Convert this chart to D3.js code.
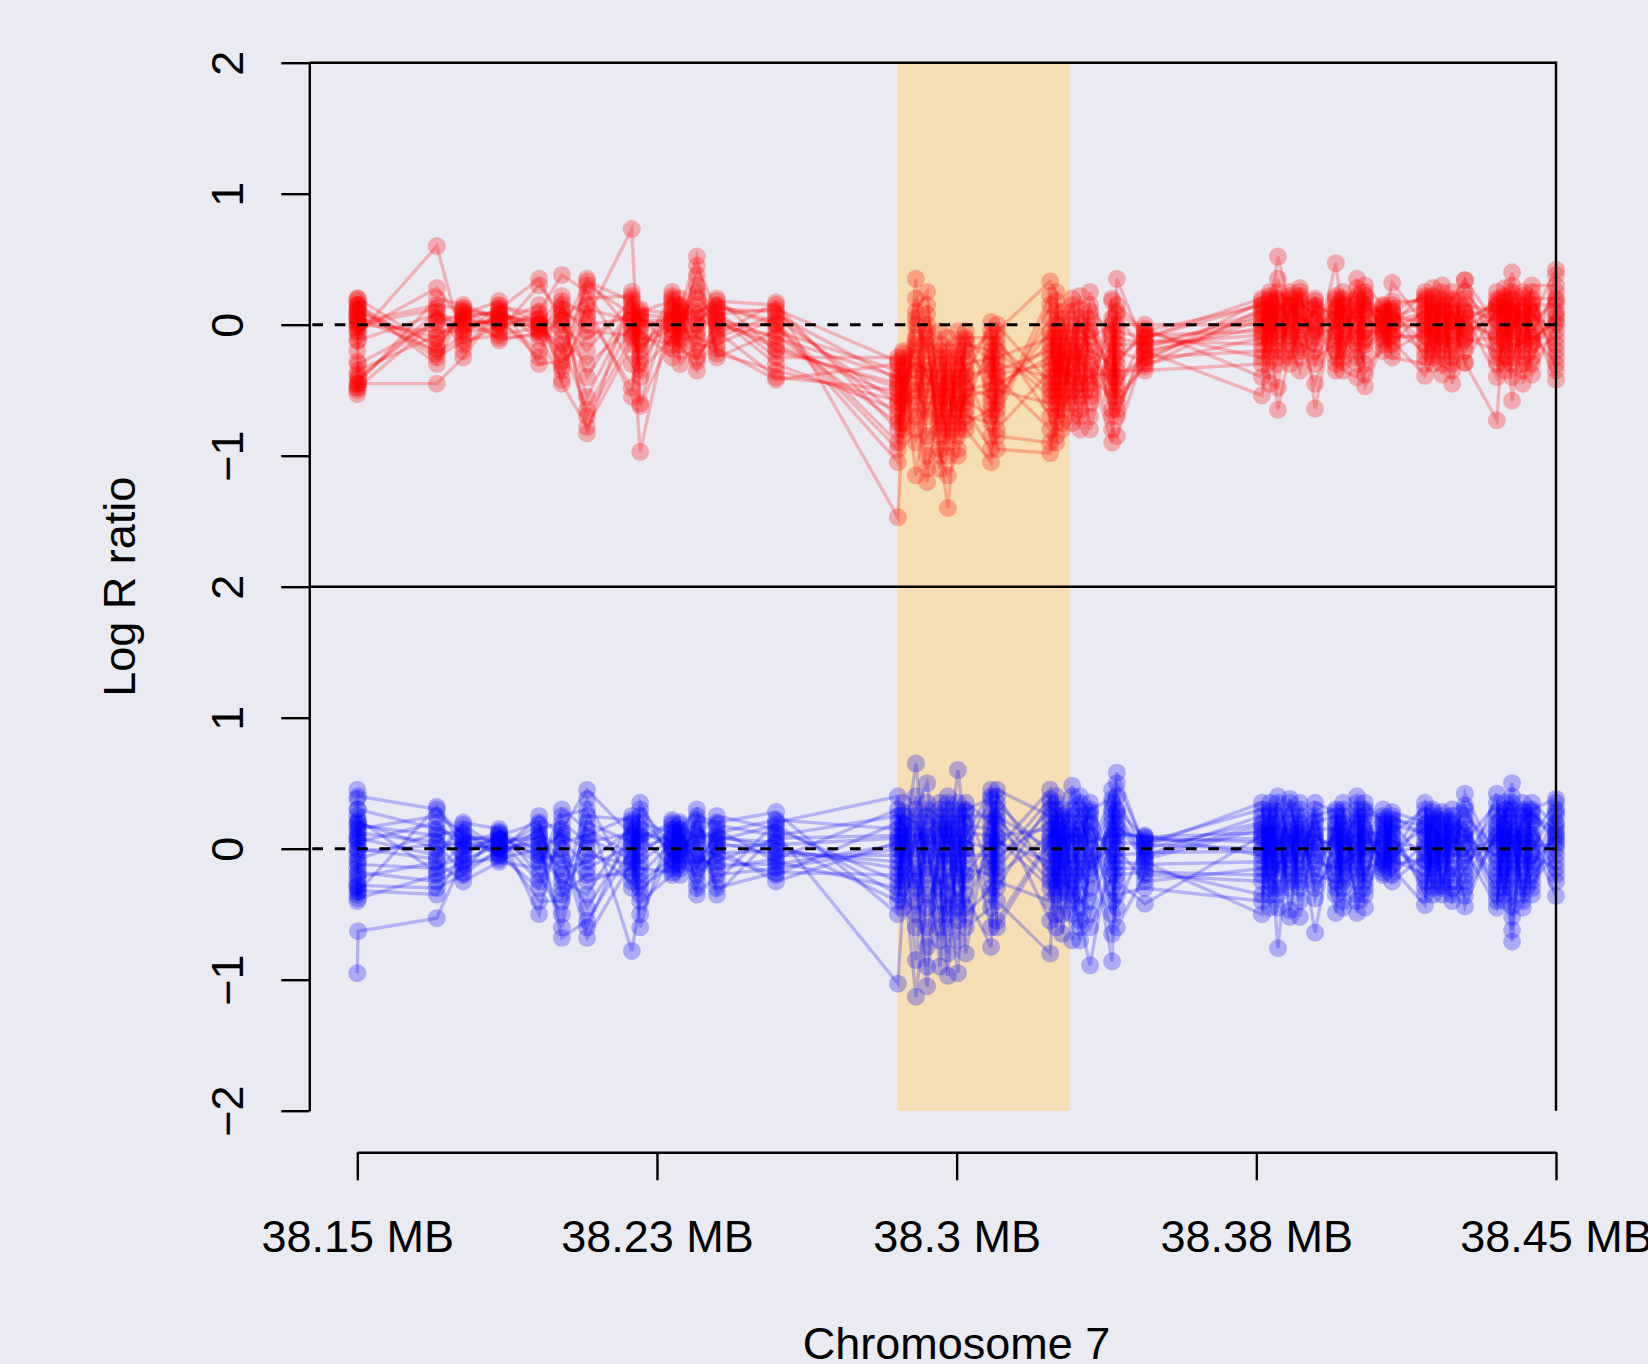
<!DOCTYPE html>
<html><head><meta charset="utf-8">
<script src="https://cdn.jsdelivr.net/npm/d3@7"></script>
<style>html,body{margin:0;padding:0;background:#EAEAF2;} svg{display:block;font-family:"Liberation Sans",Arial,sans-serif;}</style>
</head><body><svg id="c" width="1648" height="1364"></svg>
<script>
// Probe positions (MB) on chromosome 7
const positionsMB = [38.1500,38.1502,38.1699,38.1765,38.1855,38.1955,38.2012,38.2075,38.2187,38.2208,38.2288,38.2308,38.2350,38.2400,38.2548,
38.2853,38.2866,38.2898,38.2926,38.2958,38.2978,38.3003,38.3023,38.3086,38.3101,38.3234,38.3249,38.3264,38.3289,38.3309,38.3334,38.3389,38.3401,38.3471,
38.3764,38.3784,38.3804,38.3834,38.3859,38.3897,38.3949,38.3967,38.4002,38.4022,38.4067,38.4090,38.4172,38.4192,38.4215,38.4240,38.4272,38.4352,38.4372,38.4390,38.4417,38.4440,38.4500];

// Log R ratio x100, one row per probe, one column per sample (top panel, red)
const redLogR = [
[12,-5,8,-45,3,15,-20,-50,0,10,-38,5,-12,18,-48,-2,7,-28,20,-53],
[5,2,15,-40,-8,20,-12,-45,-45,0,-30,12,-5,10,-42,5,0,-35,15,-48],
[-10,15,-22,5,60,-18,8,-45,20,-5,2,-25,28,-15,10,-20,12,-8,-30,3],
[5,12,-8,0,-15,10,3,-25,15,-5,8,-12,2,6,-3,10,-20,4,13,-6],
[10,-5,15,3,0,8,-10,12,5,-3,18,-8,2,10,6,-12,14,0,4,7],
[-5,30,2,-20,5,0,-8,35,-3,10,-30,-2,15,-10,4,-6,8,0,-25,1],
[-20,8,-35,15,-5,22,-42,0,-15,38,-28,10,-45,5,-10,18,-32,3,12,-22],
[30,-70,5,-40,35,-83,15,-20,-65,25,-10,0,-78,20,-30,8,33,-55,-5,12],
[8,-10,73,15,-5,25,-55,20,0,-30,10,5,-15,22,-2,-48,18,12,-8,3],
[-30,5,-60,0,-97,-10,8,-25,-35,12,-5,-20,3,-62,10,-15,-2,-40,6,-12],
[10,-5,20,0,15,-15,5,25,-10,8,-25,12,3,-8,18,-3,6,22,-18,0],
[5,15,-10,8,-20,0,12,-5,20,-15,3,-30,10,-2,6,14,-12,2,-8,9],
[20,-10,45,0,-25,15,52,-5,8,-35,25,-15,10,30,-20,5,-8,38,2,-28],
[5,-15,10,18,-5,0,-25,12,20,-8,2,-18,15,6,-10,-2,8,-22,14,3],
[-10,5,-25,15,-40,0,-5,10,-20,17,-15,-42,2,-30,8,-8,12,-35,0,-18],
[-40,-60,-25,-80,-50,-105,-35,-70,-45,-147,-55,-30,-90,-65,-42,-75,-28,-58,-95,-48],
[-30,-45,-60,-20,-75,-38,-52,-85,-25,-68,-40,-55,-33,-80,-48,-62,-22,-70,-35,-58],
[-20,10,-45,-80,35,-30,-15,-60,-115,0,-40,-25,20,-70,-10,-55,-35,5,-90,-50],
[-40,25,-70,-10,-100,-35,0,-120,-55,-20,15,-85,-45,-5,-65,-30,-110,-15,-50,8],
[-50,-75,-30,-95,-20,-60,-110,-40,-5,-85,-55,-70,-35,-100,-45,-25,-65,-80,-15,-58],
[-60,-35,-85,-140,-45,-20,-70,-100,-50,-30,-90,-10,-65,-115,-40,-55,-80,-25,-75,-48],
[-40,-70,-15,-55,-95,-30,-60,-5,-85,-45,-25,-75,-50,-100,-35,-65,-20,-80,-42,-58],
[-30,-55,-10,-70,-40,-20,-80,-45,-5,-60,-35,-50,-15,-75,-25,-65,-38,-48,-12,-58],
[-25,-50,-10,-75,2,-40,-105,-30,-60,-15,-85,-45,-20,-65,-5,-95,-35,-55,-28,-70],
[-35,-15,-60,-40,-80,-5,-50,-25,-95,-30,-70,-10,-45,-55,-20,-85,-38,-65,0,-48],
[-20,-50,5,-80,-35,33,-60,-10,-98,-40,15,-70,-25,-5,-55,-90,-30,22,-45,-15],
[-30,0,-60,-15,-85,25,-45,-20,-70,10,-40,-90,-5,-55,-25,-65,18,-35,-50,-10],
[-10,-40,-25,-65,5,-30,-80,-15,-50,10,-35,-20,-60,-5,-45,-75,-28,-55,0,-38],
[-15,-35,10,-50,-25,-70,0,-40,-20,-60,20,-30,-10,-75,-45,-5,-55,-22,15,-38],
[0,-25,-45,-15,-65,22,-35,-80,-10,-50,-30,12,-40,-20,-70,5,-55,-28,-5,-45],
[-20,10,-40,-60,0,-30,-80,25,-15,-50,-35,-5,-70,15,-45,-25,-55,5,-10,-38],
[-30,-5,-55,18,-40,-80,-15,-25,-65,5,-90,-35,-10,-50,20,-45,-20,-70,0,-38],
[-10,-45,15,-60,-25,-85,0,-35,35,-50,-20,-70,8,-30,-55,-15,-40,10,-65,-5],
[-15,-25,-5,-30,-10,-20,0,-35,-18,-8,-28,-12,-22,-3,-32,-15,-25,-6,-20,-10],
[5,-20,15,-10,20,-54,0,-30,10,-5,18,-15,3,-40,12,-8,8,-25,-2,15],
[10,-5,20,-25,0,-15,25,5,-35,12,-10,18,-20,8,2,-45,15,-8,22,0],
[52,0,-15,10,-65,20,-5,15,-30,5,25,-20,8,-10,35,-48,12,-3,18,-25],
[15,-10,5,22,-20,0,25,-8,10,-30,18,3,-15,12,-5,20,-25,8,-2,14],
[5,20,-15,0,28,-10,12,-25,18,2,-5,22,-35,8,15,-12,0,25,-20,10],
[-5,15,-20,10,-64,0,20,-10,5,-30,12,-15,18,-3,8,-45,2,-25,14,-8],
[10,-20,47,-5,15,-30,0,22,-12,5,-35,18,-8,12,-25,3,20,-15,8,-2],
[-10,15,5,-25,20,0,-15,10,-35,25,-5,8,-20,18,2,-12,12,-28,6,14],
[20,-10,5,35,-25,12,-5,28,-40,0,15,-15,8,22,-30,3,-8,18,-20,10],
[0,25,-15,10,-47,18,-5,30,-20,8,12,-30,22,-10,5,-38,15,-2,20,-12],
[5,-10,12,0,-15,8,-5,15,2,-8,10,-20,6,-3,14,-12,0,9,-6,4],
[-5,10,0,32,-12,5,-20,15,-8,2,12,-15,8,-3,18,-10,4,-25,10,0],
[10,-15,25,0,-39,15,-5,20,-10,5,-25,12,0,-20,18,-8,8,-30,22,-2],
[-5,20,-12,10,-25,28,0,-18,15,-8,5,-30,12,2,-15,22,-3,8,-20,16],
[15,-10,30,-25,5,-38,20,0,-15,10,-5,25,-20,12,-30,8,2,-12,18,-8],
[-8,12,-45,5,-20,18,0,-12,25,-30,10,-5,15,-25,3,20,-15,8,-35,2],
[34,-10,5,-29,15,0,-20,20,-5,10,-15,25,-29,8,-8,34,2,-12,12,-3],
[0,-20,15,-73,10,-8,20,-30,5,-15,25,-5,12,-40,8,-25,18,-10,3,14],
[12,-5,-25,20,0,-35,15,-12,28,-8,5,-20,10,-3,22,-30,2,18,-15,8],
[40,-15,10,-58,20,-5,0,25,-25,12,-40,5,18,-10,8,-30,30,-2,15,-20],
[-10,20,-30,5,-15,25,10,-20,0,15,-35,8,-8,22,-25,3,-45,12,2,-12],
[5,-20,30,-8,15,-38,0,20,-12,10,-25,25,-5,8,-30,18,-15,12,2,-10],
[42,-10,30,-30,15,0,-42,20,5,-20,10,-35,25,-5,38,-15,8,-25,18,2]
];

// Log R ratio x100 (bottom panel, blue)
const blueLogR = [
[45,-20,10,-35,25,-30,0,15,-10,38,-28,5,-95,20,-40,8,-15,30,-5,-25],
[40,-12,18,-28,20,-38,5,8,-18,30,-22,12,-63,15,-32,0,-8,22,-2,-33],
[30,-15,10,-30,0,-20,20,-5,-25,15,-10,5,-53,25,-35,-8,12,-18,3,32],
[10,-5,15,-20,5,-10,0,20,-15,8,-25,3,-8,12,-3,18,-12,6,-18,2],
[5,10,-5,0,12,-8,3,15,-3,8,-10,6,2,-6,11,0,7,-4,13,1],
[-10,20,-30,5,-50,0,12,-20,25,-5,-15,8,-40,15,-8,3,-25,10,-2,18],
[15,-35,5,-68,25,-15,0,-50,10,-25,30,-8,-40,20,-5,-60,8,-20,12,-30],
[45,-20,10,-55,30,-10,-68,20,0,-35,15,-45,38,5,-25,25,-15,8,-60,-5],
[10,-20,25,0,-78,15,-10,5,-25,20,-5,8,-30,12,-15,22,3,-8,18,-12],
[-20,35,-5,15,-40,0,25,-60,10,-10,30,-30,5,-50,20,-15,12,-25,8,-35],
[5,-10,15,0,-20,10,-5,22,-15,8,2,-12,18,-3,12,-18,6,-8,20,0],
[-5,12,0,20,-15,5,-10,15,8,-20,10,-3,2,18,-12,6,-8,14,-2,3],
[20,-15,5,-30,25,0,-10,30,-25,10,-5,15,-35,8,-20,22,3,-12,12,-8],
[-10,15,-25,5,20,-5,10,-35,0,25,-15,8,-20,12,-3,18,-30,2,6,-12],
[8,-10,20,-5,28,-20,0,12,-25,15,-8,5,-15,22,-2,10,-18,3,18,-12],
[10,-30,40,-5,-50,20,-15,-103,5,-25,30,-40,0,15,-10,25,-20,8,-35,3],
[-5,20,-25,35,5,-15,10,-40,25,0,-30,15,-10,8,-45,18,-3,28,-20,12],
[65,-20,10,-40,30,-113,0,-15,20,-60,5,-85,25,-30,12,-8,40,-50,15,-25],
[-20,15,-60,5,50,-35,25,-105,0,30,-45,10,-15,35,-75,8,-30,20,-5,-90],
[20,-40,5,35,-20,-70,15,0,-50,25,-10,-90,30,-30,10,-60,18,-5,-25,8],
[-10,25,-45,10,-97,30,0,-25,40,-60,15,-15,5,-80,20,-35,35,-5,-50,12],
[60,-15,20,-55,5,-30,30,-95,10,-5,25,-40,0,15,-70,35,-20,8,-10,-45],
[10,-25,35,0,-45,20,-80,5,-15,30,-60,12,-35,25,-5,18,-50,0,28,-20],
[45,-10,20,-35,5,-60,30,0,-20,38,-45,10,-75,25,-5,15,-30,40,-15,8],
[-15,40,0,25,-40,10,-25,45,5,-10,30,-55,18,-5,35,-30,8,-20,22,-60],
[30,-20,45,0,-80,15,-40,25,-10,38,-55,8,-25,20,-5,35,-30,10,-15,5],
[-10,25,-35,40,5,-20,15,-50,30,0,-15,20,-60,10,-30,35,-5,18,-25,8],
[15,-30,5,25,-15,0,-65,20,-8,10,-40,30,-20,5,12,-50,22,-10,2,-25],
[-20,10,48,-35,20,-70,0,30,-10,-50,15,-25,40,-5,25,-15,5,-40,12,-30],
[10,-25,30,-5,-55,20,-15,40,0,-35,15,-70,25,-10,5,-45,35,-20,8,-60],
[-15,20,-5,35,-89,10,-30,25,5,-60,30,-10,0,-40,18,-20,12,-50,28,-8],
[20,-30,45,-10,5,-86,30,-50,10,-20,38,0,-65,25,-5,15,-40,8,-15,35],
[58,-15,30,0,-45,20,-25,10,40,-60,5,25,-35,15,-10,50,-20,12,-5,28],
[0,-15,8,-25,5,-10,-42,10,-5,-20,3,-8,-30,6,-12,2,-18,9,-3,-6],
[20,-35,5,-15,30,-50,10,-5,25,-25,0,15,-40,8,-10,35,-20,12,-2,18],
[-10,25,-30,10,0,35,-20,15,-45,5,28,-8,18,-25,3,-15,30,-5,12,-35],
[35,-15,10,-76,25,0,-30,15,-10,40,-20,5,-45,20,-5,12,-35,28,2,-12],
[5,30,-20,15,-47,25,-5,35,-15,0,20,-30,10,-8,38,-25,12,-52,8,-3],
[-15,10,35,-25,5,-40,20,0,30,-10,-52,15,-20,25,-5,8,-30,18,2,12],
[25,-20,0,30,-64,10,-10,20,-38,5,15,-30,35,-5,8,-15,22,-25,12,-2],
[30,-25,10,-49,20,0,-15,25,5,-35,15,-8,28,-20,2,12,-30,18,-10,8],
[-10,20,-30,5,35,-15,10,-40,25,0,-20,15,-5,30,-25,8,-45,18,3,-12],
[40,-20,5,25,-49,15,-10,30,0,-35,20,-5,10,-25,35,-15,8,-40,22,-3],
[-5,30,-25,10,-15,35,0,-45,20,5,-30,15,-10,25,-20,8,28,-35,2,12],
[10,-15,25,0,-10,20,-5,15,-20,5,30,-12,8,-3,18,-8,22,2,-18,12],
[-5,20,0,-15,28,10,-20,5,15,-10,0,25,-25,12,-8,18,-3,8,22,-12],
[35,-10,15,-43,20,-25,5,0,-35,25,-15,10,-5,30,-20,12,2,-30,18,-8],
[-15,25,0,10,-30,20,-8,30,5,-20,15,-35,28,-5,8,-25,18,3,-12,22],
[20,-30,28,-10,5,-35,15,0,-20,25,-5,12,-28,8,-15,22,2,-25,10,-8],
[-10,15,-25,22,0,10,-35,30,-15,5,20,-20,8,-40,18,-5,12,-30,25,2],
[42,-20,10,-44,25,0,-15,33,-36,5,15,-10,20,-25,8,-5,30,-30,12,-3],
[-10,42,-30,15,0,-45,25,-15,10,35,-25,5,-35,20,-5,28,-20,12,-40,8],
[20,-15,5,30,-35,10,-5,-25,25,0,15,-40,30,-10,8,-20,35,-30,2,18],
[50,-71,15,-20,30,-62,5,-10,40,-52,0,25,-44,10,-30,35,-15,20,-5,8],
[-15,25,-35,10,0,30,-25,15,-45,5,20,-10,35,-30,12,-5,28,-20,8,-40],
[30,-10,20,-30,5,25,-20,0,15,-35,28,-5,10,-25,22,-15,8,35,-12,2],
[38,10,-20,25,-36,15,0,30,-10,20,5,-15,35,-5,12,28,-25,18,8,3]
];

const yTicks = [2, 1, 0, -1, -2];
const xTicks = [38.15, 38.225, 38.3, 38.375, 38.45];
const xTickLabels = ["38.15 MB", "38.23 MB", "38.3 MB", "38.38 MB", "38.45 MB"];
const highlightMB = [38.2853, 38.3283];
const yTitle = "Log R ratio";
const xTitle = "Chromosome 7";

const W = 1648, H = 1364;
const svg = d3.select("#c");
svg.append("rect").attr("width", W).attr("height", H).attr("fill", "#EAEAF2");

const plotLeft = 309.3, plotRight = 1556;
const x = d3.scaleLinear().domain([38.15, 38.45]).range([357.3, 1556]);
const panelTop = 62.7, panelMid = 586.7, panelBot = 1110.7;
const yTop = d3.scaleLinear().domain([-2, 2]).range([panelMid, panelTop]);
const yBot = d3.scaleLinear().domain([-2, 2]).range([panelBot, panelMid]);

// highlighted region
svg.append("rect")
  .attr("x", x(highlightMB[0])).attr("width", x(highlightMB[1]) - x(highlightMB[0]))
  .attr("y", panelTop).attr("height", panelBot - panelTop)
  .attr("fill", "#F5DEB3");

const fmt = d => d < 0 ? "\u2212" + Math.abs(d) : String(d);
const nSamples = redLogR[0].length;

function drawPanel(vals, y, rgb, ticks) {
  const g = svg.append("g");
  for (let s = 0; s < nSamples; s++) {
    const pts = [];
    positionsMB.forEach((p, i) => { if (vals[i] && vals[i][s] !== undefined) pts.push([p, vals[i][s] / 100]); });
    g.append("path")
      .attr("d", d3.line().x(d => x(d[0])).y(d => y(d[1]))(pts))
      .attr("fill", "none").attr("stroke", `rgba(${rgb},0.24)`).attr("stroke-width", 3.4);
    g.selectAll(null).data(pts).enter().append("circle")
      .attr("cx", d => x(d[0])).attr("cy", d => y(d[1])).attr("r", 9)
      .attr("fill", `rgba(${rgb},0.27)`);
  }
  // zero reference line
  svg.append("line").attr("x1", plotLeft + 3).attr("x2", plotRight).attr("y1", y(0)).attr("y2", y(0))
    .attr("stroke", "#000").attr("stroke-width", 3).attr("stroke-dasharray", "10.7,11.7");
  // y axis
  const ax = svg.append("g").attr("transform", `translate(${plotLeft},0)`)
    .call(d3.axisLeft(y).tickValues(ticks).tickSize(28).tickSizeOuter(0).tickFormat(fmt));
  ax.select(".domain").attr("stroke", "#000").attr("stroke-width", 2.4);
  ax.selectAll(".tick line").attr("stroke", "#000").attr("stroke-width", 2.4);
  ax.selectAll(".tick text")
    .attr("transform", "rotate(-90)").attr("x", 0).attr("y", -66).attr("dy", 0)
    .attr("text-anchor", "middle").attr("fill", "#000")
    .style("font-size", "45px").style("font-family", '"Liberation Sans", Arial, sans-serif');
}

drawPanel(redLogR, yTop, "255,0,0", [2, 1, 0, -1]);
drawPanel(blueLogR, yBot, "0,0,255", yTicks);

// panel frame lines
const frame = svg.append("g").attr("stroke", "#000").attr("stroke-width", 2.4).attr("fill", "none");
frame.append("line").attr("x1", plotLeft).attr("x2", plotRight).attr("y1", panelTop).attr("y2", panelTop);
frame.append("line").attr("x1", plotLeft).attr("x2", plotRight).attr("y1", panelMid).attr("y2", panelMid);
frame.append("line").attr("x1", plotRight).attr("x2", plotRight).attr("y1", panelTop - 1.2).attr("y2", panelBot);

// x axis
const xa = svg.append("g").attr("transform", "translate(0,1152.3)")
  .call(d3.axisBottom(x).tickValues(xTicks).tickSize(28).tickSizeOuter(0).tickFormat((d, i) => xTickLabels[i]));
xa.select(".domain").attr("stroke", "#000").attr("stroke-width", 2.4);
xa.selectAll(".tick line").attr("stroke", "#000").attr("stroke-width", 2.4);
xa.selectAll(".tick text").attr("y", 99.4).attr("dy", 0).attr("fill", "#000")
  .style("font-size", "45px").style("font-family", '"Liberation Sans", Arial, sans-serif');

// titles
svg.append("text").attr("transform", "translate(135,586.7) rotate(-90)")
  .attr("text-anchor", "middle").attr("fill", "#000").style("font-size", "45px").text(yTitle);
svg.append("text").attr("x", 956.6).attr("y", 1359)
  .attr("text-anchor", "middle").attr("fill", "#000").style("font-size", "45px").text(xTitle);
</script>
</body></html>
